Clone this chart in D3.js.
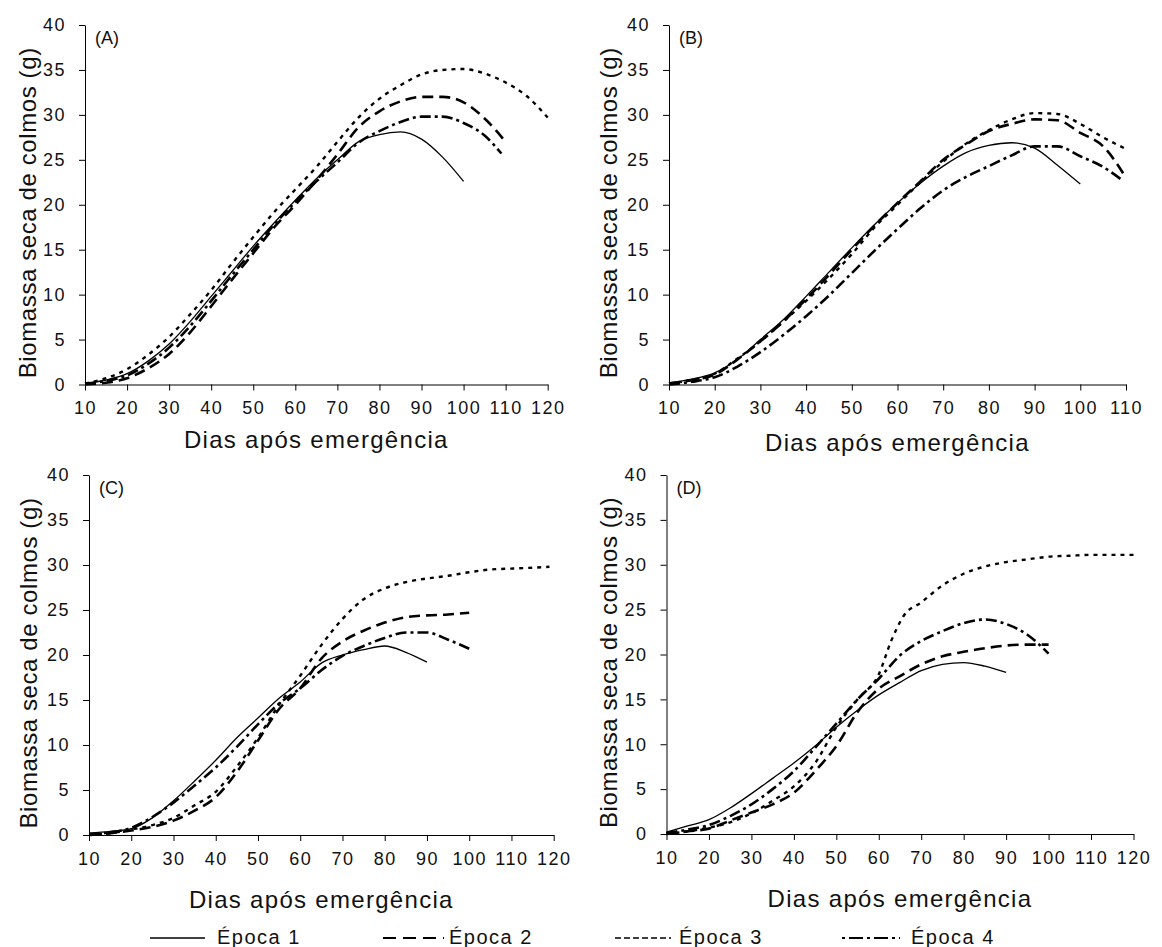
<!DOCTYPE html>
<html><head><meta charset="utf-8">
<script src="https://cdn.jsdelivr.net/npm/d3@7"></script>
<style>
html,body{margin:0;padding:0;background:#fff;}
svg{display:block;font-family:"Liberation Sans",Arial,sans-serif;}
</style></head>
<body>
<svg id="chart" width="1162" height="947"></svg>
<script>
// ---------- data ----------
const epocaNames = ["Época 1", "Época 2", "Época 3", "Época 4"];
const panelNames = ["(A)", "(B)", "(C)", "(D)"];
const yTickValues = [0, 5, 10, 15, 20, 25, 30, 35, 40];
const xTicks120 = [10, 20, 30, 40, 50, 60, 70, 80, 90, 100, 110, 120];
const xTicks110 = [10, 20, 30, 40, 50, 60, 70, 80, 90, 100, 110];
const xTitle = "Dias após emergência";
const yTitle = "Biomassa seca de colmos (g)";

const days10to90  = [10,15,20,25,30,35,40,45,50,55,60,65,70,75,80,85,90];
const days10to100 = [10,15,20,25,30,35,40,45,50,55,60,65,70,75,80,85,90,95,100];
const days10to110 = [10,15,20,25,30,35,40,45,50,55,60,65,70,75,80,85,90,95,100,105,110];
const days10to109 = [10,15,20,25,30,35,40,45,50,55,60,65,70,75,80,85,90,95,100,105,109];
const days10to120 = [10,15,20,25,30,35,40,45,50,55,60,65,70,75,80,85,90,95,100,105,110,115,120];
const days10to119 = [10,15,20,25,30,35,40,45,50,55,60,65,70,75,80,85,90,95,100,105,110,115,119];
const daysD3      = [10,15,20,25,30,35,40,45,50,55,60,63,66,70,75,80,85,90,95,100,105,110,115,120];

// Panel A
const valsA1 = [0.1,0.5,1.2,2.6,4.5,7.0,9.8,12.6,15.4,18.0,20.5,22.9,25.0,27.0,27.8,28.1,27.3,25.3,22.6];
const valsA2 = [0.0,0.2,0.7,1.8,3.4,5.8,8.7,11.7,14.6,17.5,20.0,22.7,25.6,28.6,30.4,31.5,32.0,32.0,31.4,29.6,27.0];
const valsA3 = [0.1,0.7,1.7,3.3,5.3,7.8,10.5,13.5,16.4,19.2,21.7,24.2,27.0,29.7,31.8,33.3,34.5,35.0,35.1,34.6,33.6,32.1,29.7];
const valsA4 = [0.1,0.4,1.0,2.3,4.1,6.5,9.3,12.2,15.0,17.8,20.3,22.6,24.7,26.9,28.2,29.2,29.8,29.8,29.1,27.7,25.7];
// Panel B
const valsB1 = [0.2,0.6,1.3,2.8,5.0,7.2,9.8,12.5,15.2,17.8,20.2,22.4,24.3,25.8,26.6,26.9,26.3,24.4,22.3];
const valsB2 = [0.1,0.5,1.1,2.8,4.8,7.0,9.5,12.2,15.0,17.7,20.2,22.6,25.0,26.7,28.2,29.0,29.5,29.4,28.0,26.5,23.0];
const valsB3 = [0.1,0.5,1.2,2.9,4.8,7.0,9.3,11.8,14.5,17.5,20.0,22.5,24.8,26.8,28.3,29.5,30.2,30.1,29.0,27.5,26.2];
const valsB4 = [0.0,0.3,0.8,2.0,3.6,5.5,7.6,9.9,12.4,14.9,17.3,19.6,21.6,23.1,24.3,25.5,26.5,26.5,25.4,24.2,22.8];
// Panel C
const valsC1 = [0.2,0.4,0.7,1.9,3.8,6.0,8.3,10.8,13.0,15.2,17.0,19.1,20.0,20.6,21.0,20.3,19.2];
const valsC2 = [0.0,0.2,0.5,0.9,1.6,2.7,4.2,7.0,10.5,14.0,16.3,19.6,21.5,22.7,23.6,24.2,24.4,24.5,24.7];
const valsC3 = [0.0,0.2,0.6,1.1,1.9,3.3,4.8,7.6,10.8,14.5,17.7,21.1,24.0,26.2,27.4,28.1,28.5,28.8,29.2,29.5,29.6,29.7,29.8];
const valsC4 = [0.1,0.3,0.8,2.0,3.6,5.5,7.5,9.8,12.3,14.6,16.3,18.3,19.9,21.0,21.9,22.5,22.5,21.7,20.7];
// Panel D
const valsD1 = [0.2,0.9,1.6,2.9,4.5,6.2,7.9,9.8,11.9,13.8,15.5,16.9,18.2,18.9,19.1,18.7,18.0];
const valsD2 = [0.0,0.3,0.6,1.5,2.4,3.3,4.6,7.0,9.8,13.6,16.2,17.6,18.9,19.8,20.3,20.7,21.0,21.1,21.1];
const valsD3 = [0.0,0.3,0.7,1.3,2.3,3.7,5.3,7.9,11.9,15.0,17.8,21.6,24.4,25.8,27.7,29.0,29.8,30.3,30.6,30.9,31.0,31.1,31.1,31.1];
const valsD4 = [0.1,0.5,1.0,2.0,3.3,5.0,7.0,9.6,12.3,15.0,17.3,19.9,21.5,22.6,23.5,23.9,23.4,22.2,20.1];

// ---------- styles & layout ----------
const FONT = '"Liberation Sans", Arial, sans-serif';
const lineStyles = [
  {dash: null,        width: 1.3},
  {dash: "11,6",      width: 2.6},
  {dash: "4,5",       width: 2.4},
  {dash: "11,4,3,4",  width: 2.6}
];
const legendStyles = [
  {dash: null,           width: 1.4},
  {dash: "13,7",         width: 2.0},
  {dash: "6,3",          width: 1.3},
  {dash: "3,4,14,4",     width: 2.0}
];

const panels = [
  {name: panelNames[0], x0: 85,    x1: 547.7,  y0: 384.5, y1: 25,  xMax: 120, ticks: xTicks120, xTitleDy: 63, yTitleX: 36,
   series: [[days10to100, valsA1], [days10to110, valsA2], [days10to120, valsA3], [days10to109, valsA4]]},
  {name: panelNames[1], x0: 669,   x1: 1126,   y0: 384.5, y1: 25,  xMax: 110, ticks: xTicks110, xTitleDy: 66, yTitleX: 617,
   series: [[days10to100, valsB1], [days10to110, valsB2], [days10to110, valsB3], [days10to109, valsB4]]},
  {name: panelNames[2], x0: 89,    x1: 553.7,  y0: 835,   y1: 475, xMax: 120, ticks: xTicks120, xTitleDy: 73, yTitleX: 37,
   series: [[days10to90, valsC1], [days10to100, valsC2], [days10to119, valsC3], [days10to100, valsC4]]},
  {name: panelNames[3], x0: 666.5, x1: 1133.5, y0: 834,   y1: 475, xMax: 120, ticks: xTicks120, xTitleDy: 73, yTitleX: 617,
   series: [[days10to90, valsD1], [days10to100, valsD2], [daysD3, valsD3], [days10to100, valsD4]]}
];

const svg = d3.select("#chart");

panels.forEach(p => {
  const x = d3.scaleLinear().domain([10, p.xMax]).range([p.x0, p.x1]);
  const y = d3.scaleLinear().domain([0, 40]).range([p.y0, p.y1]);
  const g = svg.append("g");

  // x axis
  const xa = g.append("g").attr("transform", `translate(0,${p.y0})`)
    .call(d3.axisBottom(x).tickValues(p.ticks).tickSize(6).tickSizeOuter(0).tickPadding(11));
  // y axis
  const ya = g.append("g").attr("transform", `translate(${p.x0},0)`)
    .call(d3.axisLeft(y).tickValues(yTickValues).tickSize(6).tickSizeOuter(0).tickPadding(13));
  [xa, ya].forEach(a => {
    a.select(".domain").attr("stroke", "#000").attr("stroke-width", 1);
    a.selectAll(".tick line").attr("stroke", "#000").attr("stroke-width", 1);
    a.selectAll(".tick text").attr("fill", "#111")
      .style("font-family", FONT).style("font-size", "18px").style("letter-spacing", "1.5px");
  });

  // axis titles
  g.append("text")
    .attr("x", (p.x0 + p.x1) / 2).attr("y", p.y0 + p.xTitleDy)
    .attr("text-anchor", "middle").attr("fill", "#111")
    .style("font-family", FONT).style("font-size", "24px").style("letter-spacing", "1.3px")
    .text(xTitle);
  g.append("text")
    .attr("transform", `translate(${p.yTitleX},${(p.y0 + p.y1) / 2 + 8}) rotate(-90)`)
    .attr("text-anchor", "middle").attr("fill", "#111")
    .style("font-family", FONT).style("font-size", "24px").style("letter-spacing", "0.6px")
    .text(yTitle);

  // panel label
  g.append("text")
    .attr("x", p.x0 + 10).attr("y", p.y1 + 19)
    .attr("fill", "#111")
    .style("font-family", FONT).style("font-size", "18px")
    .text(p.name);

  // lines
  const line = d3.line().x(d => x(d[0])).y(d => y(d[1])).curve(d3.curveMonotoneX);
  p.series.forEach((s, i) => {
    const pts = s[0].map((d, k) => [d, s[1][k]]);
    g.append("path").datum(pts)
      .attr("d", line)
      .attr("fill", "none")
      .attr("stroke", "#000")
      .attr("stroke-width", lineStyles[i].width)
      .attr("stroke-dasharray", lineStyles[i].dash)
      .attr("stroke-linejoin", "round");
  });
});

// legend
const legendItems = [
  {lx: 150, len: 55, tx: 217},
  {lx: 383, len: 61, tx: 449},
  {lx: 615, len: 56, tx: 679},
  {lx: 842, len: 58, tx: 911}
];
const lg = svg.append("g");
epocaNames.forEach((name, i) => {
  const it = legendItems[i];
  lg.append("line")
    .attr("x1", it.lx).attr("x2", it.lx + it.len)
    .attr("y1", 938).attr("y2", 938)
    .attr("stroke", "#000")
    .attr("stroke-width", legendStyles[i].width)
    .attr("stroke-dasharray", legendStyles[i].dash);
  lg.append("text")
    .attr("x", it.tx).attr("y", 944)
    .attr("fill", "#111")
    .style("font-family", FONT).style("font-size", "20px").style("letter-spacing", "1.5px")
    .text(name);
});
</script>
</body></html>
